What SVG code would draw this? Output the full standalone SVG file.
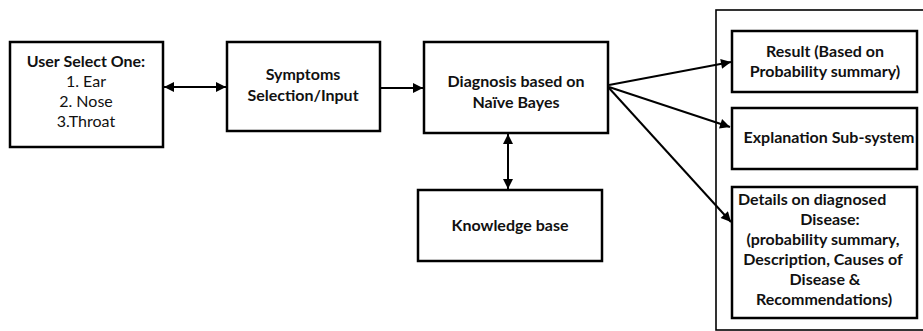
<svg xmlns="http://www.w3.org/2000/svg" width="923" height="331" viewBox="0 0 923 331">
<style>
.box{fill:#fff;stroke:#000;stroke-width:2.5}
.outer{fill:none;stroke:#000;stroke-width:1.6}
.t{font-family:Lato,"Open Sans","Liberation Sans",sans-serif;font-size:16px;fill:#111;text-anchor:middle}
.b{font-weight:bold}
.c{fill:none;stroke:#000;stroke-width:2}
</style>
<defs>
<marker id="ah" viewBox="0 0 10 10" refX="10" refY="5" markerWidth="5.5" markerHeight="5" markerUnits="strokeWidth" orient="auto-start-reverse">
<path d="M0,0 L10,5 L0,10 z" fill="#000"/>
</marker>
</defs>
<rect class="outer" x="716" y="10" width="230" height="320"/>
<g id="user-select">
<rect class="box" x="10" y="42" width="153" height="105"/>
<text class="t b" x="86" y="67">User Select One:</text>
<text class="t" x="86" y="87">1. Ear</text>
<text class="t" x="86" y="107">2. Nose</text>
<text class="t" x="86" y="127">3.Throat</text>
</g>
<g id="symptoms">
<rect class="box" x="227" y="42" width="153" height="89"/>
<text class="t b" x="303" y="80">Symptoms</text>
<text class="t b" x="303" y="101">Selection/Input</text>
</g>
<g id="diagnosis">
<rect class="box" x="424" y="42" width="184" height="91"/>
<text class="t b" x="516" y="87">Diagnosis based on</text>
<text class="t b" x="516" y="108">Naïve Bayes</text>
</g>
<g id="knowledge">
<rect class="box" x="418" y="190" width="184" height="71"/>
<text class="t b" x="510" y="231">Knowledge base</text>
</g>
<g id="result">
<rect class="box" x="732" y="31" width="185" height="61"/>
<text class="t b" x="825" y="57">Result (Based on</text>
<text class="t b" x="825" y="77">Probability summary)</text>
</g>
<g id="explanation">
<rect class="box" x="732" y="108" width="185" height="61"/>
<text class="t b" x="829" y="143">Explanation Sub-system</text>
</g>
<g id="details">
<rect class="box" x="732" y="187" width="185" height="131"/>
<text class="t b" x="738" y="205" style="text-anchor:start">Details on diagnosed</text>
<text class="t b" x="830" y="225">Disease:</text>
<text class="t b" x="823" y="245">(probability summary,</text>
<text class="t b" x="823" y="265">Description, Causes of</text>
<text class="t b" x="825" y="285">Disease &amp;</text>
<text class="t b" x="824" y="305">Recommendations)</text>
</g>
<g id="connectors">
<line class="c" x1="164" y1="87" x2="226" y2="87" marker-start="url(#ah)" marker-end="url(#ah)"/>
<line class="c" x1="381" y1="88" x2="423" y2="88" marker-end="url(#ah)"/>
<line class="c" x1="508" y1="134" x2="508" y2="189" marker-start="url(#ah)" marker-end="url(#ah)"/>
<line class="c" x1="609" y1="85" x2="731" y2="62" marker-end="url(#ah)"/>
<line class="c" x1="609" y1="87" x2="730" y2="127" marker-end="url(#ah)"/>
<line class="c" x1="609" y1="88" x2="731" y2="222" marker-end="url(#ah)"/>
</g>
</svg>
